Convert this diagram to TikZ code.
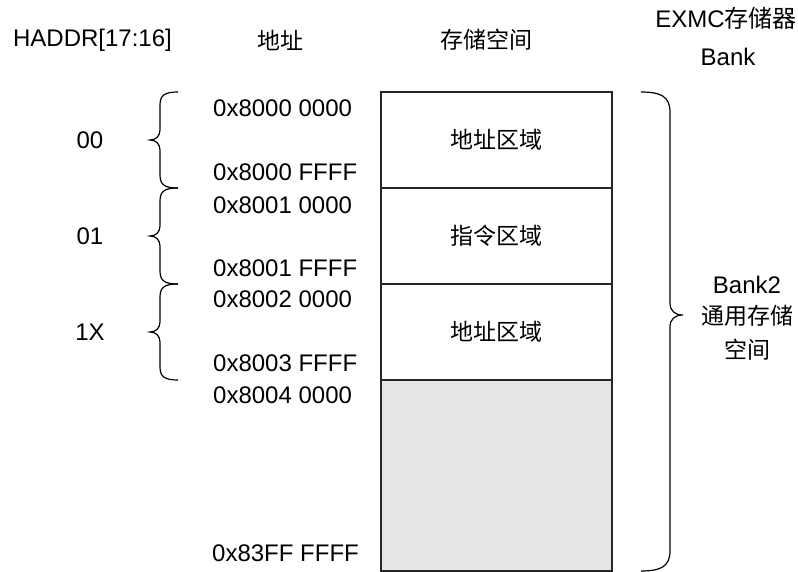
\documentclass[tikz,border=0pt]{standalone}
\usepackage{fontspec}
\setmainfont{Liberation Sans}
\newfontfamily\cjk{Noto Sans CJK SC}
\begin{document}
\begin{tikzpicture}[x=1pt,y=-1pt,
  lbl/.style={inner sep=0pt,font=\fontsize{24}{28}\selectfont},
  cjklbl/.style={inner sep=0pt,font=\fontsize{23}{28}\selectfont\cjk},
  addr/.style={lbl,anchor=west},
  region/.style={draw=black!85,line width=1.3pt,minimum width=231pt,inner sep=0pt,font=\fontsize{23}{28}\selectfont\cjk},
  bracepath/.style={draw=black,line width=1.2pt}
]
\useasboundingbox (0,0) rectangle (798,572);
% headers
\node[lbl] (h1) at (92.5,40) {HADDR[17:16]};
\node[cjklbl] (h2) at (280,40) {地址};
\node[cjklbl] (h3) at (486,40) {存储空间};
\node[lbl] (h4) at (726,18) {EXMC{\cjk 存储器}};
\node[lbl] (h5) at (728,57) {Bank};
% memory regions
\node[region,minimum height=96pt] (r1) at (496.5,140) {地址区域};
\node[region,minimum height=96pt] (r2) at (496.5,236) {指令区域};
\node[region,minimum height=96pt] (r3) at (496.5,332) {地址区域};
\node[region,minimum height=191pt,fill=black!10] (r4) at (496.5,475.5) {};
% addresses
\node[addr] (a1) at (213,108) {0x8000 0000};
\node[addr] (a2) at (213,172) {0x8000 FFFF};
\node[addr] (a3) at (213,205) {0x8001 0000};
\node[addr] (a4) at (213,268) {0x8001 FFFF};
\node[addr] (a5) at (213,299) {0x8002 0000};
\node[addr] (a6) at (213,363) {0x8003 FFFF};
\node[addr] (a7) at (213,395) {0x8004 0000};
\node[addr] (a8) at (212,553) {0x83FF FFFF};
% HADDR values
\node[lbl] (v1) at (90,140) {00};
\node[lbl] (v2) at (90,236) {01};
\node[lbl] (v3) at (90,332) {1X};
% left braces
\foreach \t/\b in {92/188,188/284,284/380}{
  \pgfmathsetmacro{\m}{(\t+\b)/2}
  \path[bracepath] (178,\t) .. controls (165,\t) and (160,\t+3) .. (160,\t+13)
    -- (160,\m-10) .. controls (160,\m-4) and (156,\m) .. (150,\m)
    .. controls (156,\m) and (160,\m+4) .. (160,\m+10)
    -- (160,\b-13) .. controls (160,\b-3) and (165,\b) .. (178,\b);
}
% right brace
\path[bracepath] (641,92) .. controls (660,92) and (670,96) .. (670,112)
  -- (670,303) .. controls (670,311) and (675,315) .. (683,315)
  .. controls (675,315) and (670,319) .. (670,327)
  -- (670,551) .. controls (670,567) and (660,571) .. (641,571);
% bank label
\node[lbl] (b1) at (747,285) {Bank2};
\node[cjklbl] (b2) at (747,316) {通用存储};
\node[cjklbl] (b3) at (747,350) {空间};
\end{tikzpicture}
\end{document}
